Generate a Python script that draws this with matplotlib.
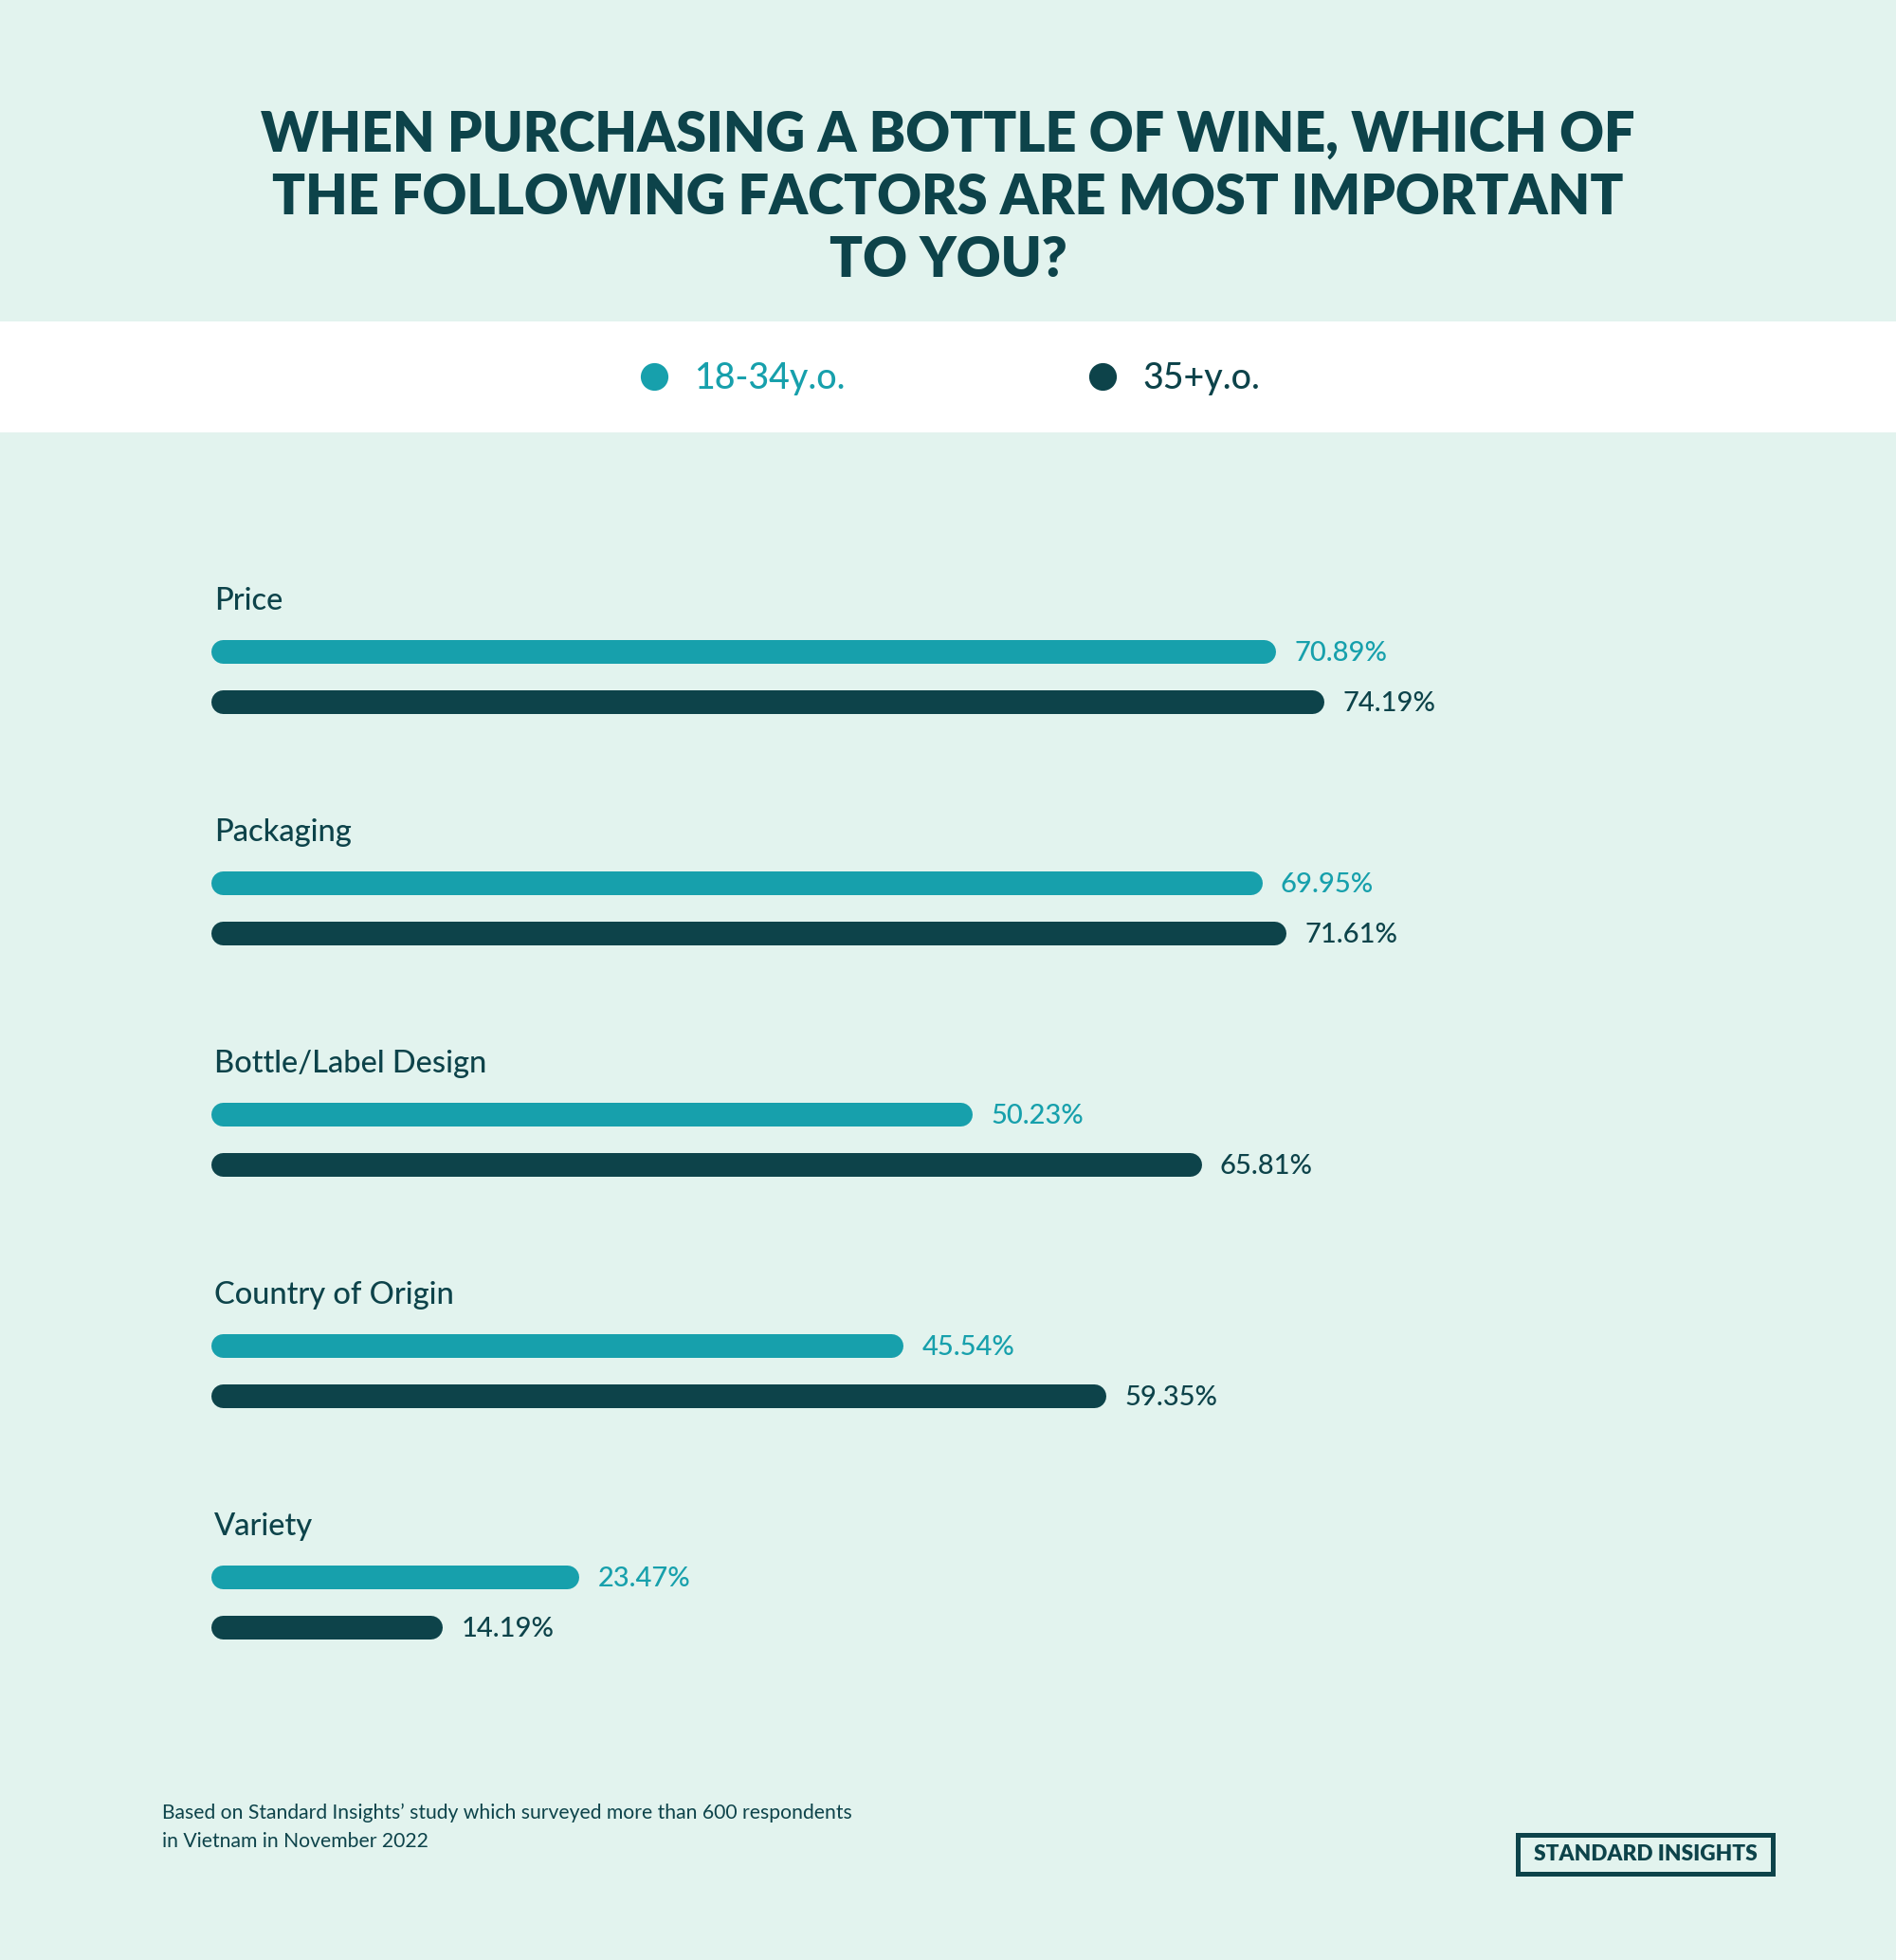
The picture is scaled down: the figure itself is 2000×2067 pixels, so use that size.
import matplotlib.pyplot as plt
from matplotlib.patches import Rectangle

# ----------------------------------------------- DATA -------------------------------------------------#
categories = ["Price", "Packaging", "Bottle/Label Design", "Country of Origin", "Variety"]
young = [70.89, 69.95, 50.23, 45.54, 23.47]
older = [74.19, 71.61, 65.81, 59.35, 14.19]
series_names = ["18-34y.o.", "35+y.o."]
title_lines = ["WHEN PURCHASING A BOTTLE OF WINE, WHICH OF",
               "THE FOLLOWING FACTORS ARE MOST IMPORTANT",
               "TO YOU?"]
footnote = ["Based on Standard Insights\u2019 study which surveyed more than 600 respondents",
            "in Vietnam in November 2022"]

# ----------------------------------------------- STYLE -------------------------------------------------#
BG = "#E2F3EE"
TEAL = "#17A0AC"
DARK = "#0D434A"
W, H = 2000, 2067
FONT = "Lato"
plt.rcParams['font.family'] = [FONT, 'DejaVu Sans']

fig = plt.figure(figsize=(W / 100, H / 100), dpi=100, facecolor=BG)

# decoration axes in pixel coords
deco = fig.add_axes([0, 0, 1, 1], zorder=0)
deco.set_xlim(0, W)
deco.set_ylim(H, 0)
deco.axis('off')
deco.add_patch(Rectangle((0, 339), W, 117, facecolor="white", edgecolor="none"))

for line, yb in zip(title_lines, [160, 226, 292]):
    deco.text(1000, yb, line, ha='center', va='baseline', fontsize=41.5, fontweight='heavy', color=DARK)

# legend
for name, col, xc in zip(series_names, [TEAL, DARK], [690, 1163]):
    deco.plot(xc, 397, 'o', ms=21, color=col, mec='none')
    deco.text(xc + 42, 410, name, ha='left', va='baseline', fontsize=27, fontweight='medium', color=col)

for line, yb in zip(footnote, [1918, 1948]):
    deco.text(171, yb, line, ha='left', va='baseline', fontsize=15.2, color=DARK)

deco.add_patch(Rectangle((1601, 1935), 269, 41, facecolor="none", edgecolor=DARK, lw=3.6))
deco.text(1736, 1962, "STANDARD INSIGHTS", ha='center', va='baseline', fontsize=16.3,
          fontweight='heavy', color=DARK)

# ----------------------------------------------- BARS -------------------------------------------------#
ax = fig.add_axes([0, 0, 1, 1], zorder=1)
ax.patch.set_visible(False)
ax.axis('off')
s = 15.5          # px per percent
x0 = 234.5        # px of zero
ax.set_xlim(-x0 / s, (W - x0) / s)
ax.set_ylim(H, 0)

group_top = 631
step = 244
lw = 25 * 72 / 100

for i, cat in enumerate(categories):
    yc = group_top + i * step
    ax.text(-x0 / s + 226 / s, yc + 12, cat, ha='left', va='baseline', fontsize=23.5,
            fontweight='medium', color=DARK)
    for val, col, dy in zip([young[i], older[i]], [TEAL, DARK], [56, 109]):
        ax.plot([0, val], [yc + dy, yc + dy], color=col, lw=lw, solid_capstyle='round')
        ax.text(val + 32 / s, yc + dy + 10, f"{val:.2f}%", ha='left', va='baseline',
                fontsize=21, fontweight='medium', color=col)

fig.savefig("out.png", dpi=100, facecolor=BG)
